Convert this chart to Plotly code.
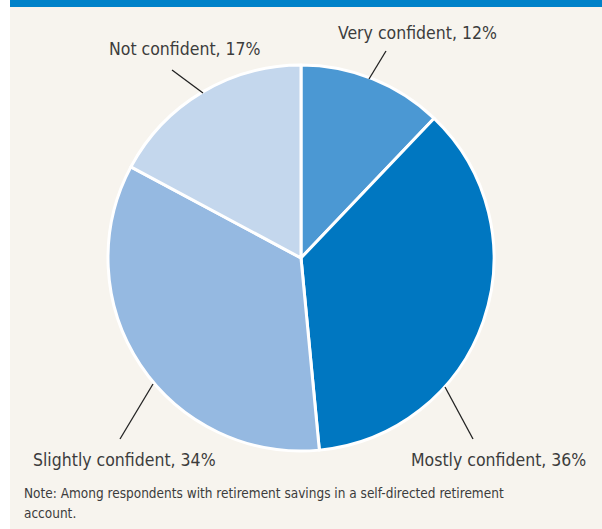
import plotly.graph_objects as go

W, H = 602, 529

categories = ["Very confident", "Mostly confident", "Slightly confident", "Not confident"]
values = [12, 36, 34, 17]
colors = ["#4b98d3", "#0077c1", "#95b9e1", "#c4d7ed"]
note_lines = ["Note: Among respondents with retirement savings in a self-directed retirement",
              "account."]

FONT = "'Liberation Sans Narrow', 'DejaVu Sans Condensed', 'Arial Narrow', sans-serif"
TXT = "#3c3c3c"

def px(x):
    return x / W

def py(y):
    return 1 - y / H

# pie geometry in pixels
cx, cy, r = 301, 258, 193

fig = go.Figure(go.Pie(
    labels=categories,
    values=values,
    sort=False,
    direction="clockwise",
    rotation=0,
    textinfo="none",
    hoverinfo="label+percent",
    marker=dict(colors=colors, line=dict(color="white", width=3)),
    domain=dict(x=[px(cx - r), px(cx + r)], y=[py(cy + r), py(cy - r)]),
    showlegend=False,
))

# label positions (pixel centers) and leader lines
label_pos = [(417, 33), (498, 460), (124, 460), (185, 49)]
leaders = [((369, 79), (386, 51)), ((445, 387), (473, 439)),
           ((153, 384), (120, 439)), ((203, 93), (172, 70))]

annotations = []
for name, v, (lx, ly) in zip(categories, values, label_pos):
    annotations.append(dict(
        text=f"{name}, {v}%", x=px(lx), y=py(ly), xref="paper", yref="paper",
        xanchor="center", yanchor="middle", showarrow=False,
        font=dict(family=FONT, size=17.5, color=TXT)))

for line, ly in zip(note_lines, [493, 513]):
    annotations.append(dict(
        text=line, x=px(22), y=py(ly), xref="paper", yref="paper",
        xanchor="left", yanchor="middle", align="left", showarrow=False,
        font=dict(family=FONT, size=13.5, color=TXT)))

shapes = [
    dict(type="rect", xref="paper", yref="paper", x0=0, x1=px(10), y0=0, y1=1,
         fillcolor="white", line=dict(width=0), layer="below"),
    dict(type="rect", xref="paper", yref="paper", x0=px(10), x1=1, y0=py(7), y1=1,
         fillcolor="#0082c9", line=dict(width=0)),
]
for (a, b) in leaders:
    shapes.append(dict(type="line", xref="paper", yref="paper",
                       x0=px(a[0]), y0=py(a[1]), x1=px(b[0]), y1=py(b[1]),
                       line=dict(color="#222222", width=1.3)))

fig.update_layout(
    width=W, height=H,
    margin=dict(l=0, r=0, t=0, b=0),
    paper_bgcolor="#f7f4ee",
    plot_bgcolor="#f7f4ee",
    annotations=annotations,
    shapes=shapes,
)

fig.write_html("out.html", config={"displayModeBar": False},
               post_script="document.body.style.margin='0';")
